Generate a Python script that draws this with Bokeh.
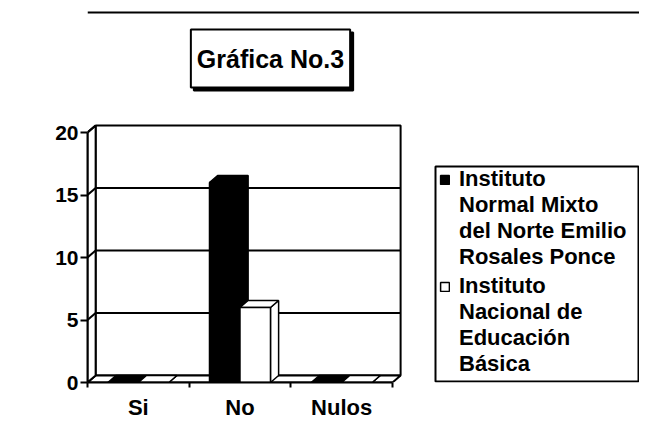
from bokeh.plotting import figure
from bokeh.models import (Range1d, FixedTicker, Legend, LegendItem, Label, Span,
                          BoxAnnotation)
from bokeh.embed import file_html
from bokeh.resources import INLINE

# ---- data ----
categories = ["Si", "No", "Nulos"]
series_lines = [
    ["Instituto", "Normal Mixto", "del Norte Emilio", "Rosales Ponce"],
    ["Instituto", "Nacional de", "Educación", "Básica"],
]
inmn_values = [0, 16, 0]
ineb_values = [0, 6, 0]
y_ticks = [0, 5, 10, 15, 20]
y_max = 20
title_text = "Gráfica No.3"

# ---- style ----
FONT = "Liberation Sans"
DX = 0.08    # 3D depth, x data units
DY = 0.56    # 3D depth, y data units
BAR_W = 0.3
LW = 2

n = len(categories)
centers = [i + 0.5 for i in range(n)]

# the frame covers the canvas except the axis panels, so the title box and
# the legend can live inside it; axis bounds limit the drawn axes.
p = figure(width=639, height=429,
           x_range=Range1d(0, 5.43), y_range=Range1d(0, 30.56),
           output_backend="svg", toolbar_location=None,
           min_border_left=87, min_border_right=0,
           min_border_top=0, min_border_bottom=47)
p.grid.visible = False
p.outline_line_color = None

# walls and floor
p.patch([DX, n + DX, n + DX, DX], [DY, DY, y_max + DY, y_max + DY],
        fill_color="white", line_color="black", line_width=LW)
p.patch([0, n, n + DX, DX], [0, 0, DY, DY],
        fill_color="white", line_color="black", line_width=LW)
p.patch([0, DX, DX, 0], [0, DY, y_max + DY, y_max],
        fill_color="white", line_color="black", line_width=LW)
gv = y_ticks[1:-1]
p.segment(x0=[DX] * len(gv), y0=[v + DY for v in gv], x1=[n + DX] * len(gv),
          y1=[v + DY for v in gv], line_color="black", line_width=LW)
gl = y_ticks[1:]
p.segment(x0=[0] * len(gl), y0=gl, x1=[DX] * len(gl), y1=[v + DY for v in gl],
          line_color="black", line_width=LW)


def bar3d(values, offset, color):
    lefts = [c + offset - BAR_W / 2 for c in centers]
    rights = [l + BAR_W for l in lefts]
    top_xs = [[l, r, r + DX, l + DX] for l, r in zip(lefts, rights)]
    top_ys = [[v, v, v + DY, v + DY] for v in values]
    side_xs = [[r, r + DX, r + DX, r] for r in rights]
    side_ys = [[0, DY, v + DY, v] for v in values]
    p.patches(side_xs + top_xs, side_ys + top_ys, fill_color=color,
              line_color="black", line_width=1.5)
    return p.vbar(x=[c + offset for c in centers], top=values, bottom=0,
                  width=BAR_W, fill_color=color, line_color="black", line_width=1.5)


r1 = bar3d(inmn_values, -BAR_W / 2, "black")
r2 = bar3d(ineb_values, BAR_W / 2, "white")
# invisible renderer used for the continuation lines of the legend labels
r_blank = p.vbar(x=[], top=[], width=BAR_W, fill_alpha=0, line_alpha=0)

# axes
ya = p.yaxis[0]
ya.ticker = FixedTicker(ticks=y_ticks)
ya.bounds = (0, y_max)
ya.major_tick_out = 7
ya.major_tick_in = 0
ya.minor_tick_line_color = None
ya.axis_line_width = LW
ya.major_tick_line_width = LW
ya.major_label_text_font = FONT
ya.major_label_text_font_size = "21px"
ya.major_label_text_font_style = "bold"
ya.major_label_text_color = "black"
ya.major_label_standoff = 2

xa = p.xaxis[0]
xa.ticker = FixedTicker(ticks=centers, minor_ticks=list(range(n + 1)))
xa.bounds = (0, n)
xa.major_label_overrides = {c: cat for c, cat in zip(centers, categories)}
xa.major_tick_line_color = None
xa.major_tick_out = 0
xa.major_tick_in = 0
xa.minor_tick_out = 5
xa.minor_tick_in = 0
xa.minor_tick_line_width = LW
xa.minor_tick_line_color = "black"
xa.axis_line_width = LW
xa.major_label_text_font = FONT
xa.major_label_text_font_size = "22px"
xa.major_label_text_font_style = "bold"
xa.major_label_text_color = "black"
xa.major_label_standoff = 7

# legend: outer box + one borderless legend per series
p.add_layout(BoxAnnotation(left=348, right=551, bottom=1, top=216,
                           left_units="screen", right_units="screen",
                           top_units="screen", bottom_units="screen",
                           fill_color="white", fill_alpha=1,
                           line_color="black", line_alpha=1, line_width=2))
legend_style = dict(orientation="vertical", border_line_color=None,
                    background_fill_alpha=0,
                    label_text_font=FONT, label_text_font_style="bold",
                    label_text_font_size="22px", label_text_color="black",
                    glyph_width=11, glyph_height=11, label_standoff=9,
                    padding=0, spacing=0, margin=0)
for lines, rend, loc in [(series_lines[0], r1, (352, 112)),
                         (series_lines[1], r2, (352, 5))]:
    items = [LegendItem(label=lines[0], renderers=[rend])] + \
            [LegendItem(label=t, renderers=[r_blank]) for t in lines[1:]]
    p.add_layout(Legend(items=items, location=loc, **legend_style))

# chart border line (top)
p.add_layout(Span(location=370, location_units="screen", dimension="width",
                  line_color="black", line_width=2))

# title box with shadow
common = dict(x=183, y=324, x_units="screen", y_units="screen", text=title_text,
              text_font=FONT, text_font_style="bold", text_font_size="25px",
              text_align="center", text_baseline="middle", padding=(6, 15),
              border_line_color="black", border_line_width=2)
p.add_layout(Label(x_offset=3, y_offset=-3, text_color="black",
                   background_fill_color="black", **common))
p.add_layout(Label(text_color="black", background_fill_color="white", **common))

open("out.html", "w").write(file_html(p, INLINE))
